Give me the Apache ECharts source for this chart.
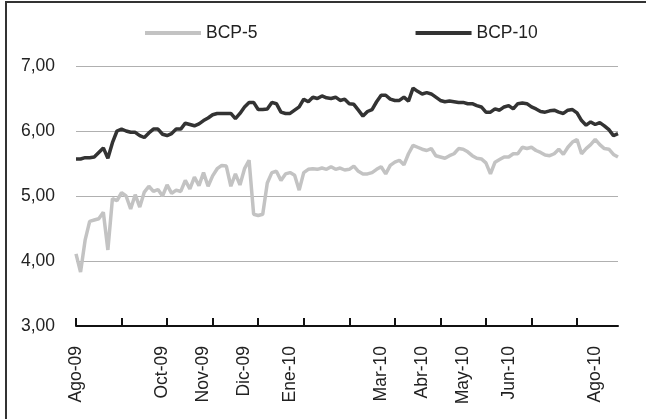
<!DOCTYPE html>
<html>
<head>
<meta charset="utf-8">
<script src="https://cdn.jsdelivr.net/npm/echarts@6/dist/echarts.min.js"></script>
<style>
  html, body { margin: 0; padding: 0; background: #fff; overflow: hidden; }
  #chart { width: 646px; height: 419px; }
  #frame {
    position: absolute; left: 5px; top: 1px; width: 639px; height: 416px;
    border-left: 2px solid #333; border-top: 2px solid #333; pointer-events: none;
  }
</style>
</head>
<body>
<div id="chart"></div>
<div id="frame"></div>
<script>
// month labels and the category index where each one sits
const monthLabels = ['Ago-09', 'Oct-09', 'Nov-09', 'Dic-09', 'Ene-10', 'Mar-10', 'Abr-10', 'May-10', 'Jun-10', 'Ago-10'];
const labelIdx = [0, 19, 28, 37, 47, 67, 76, 85, 95, 114];

const seriesNames = ['BCP-5', 'BCP-10'];

// BCP-5 yields (120 points)
const bcp5 = [
  4.11, 3.83, 4.32, 4.61, 4.63, 4.65, 4.75, 4.17, 4.96, 4.93,
  5.05, 5.00, 4.80, 5.02, 4.83, 5.06, 5.15, 5.07, 5.10, 5.00,
  5.17, 5.04, 5.09, 5.07, 5.24, 5.11, 5.29, 5.16, 5.36, 5.15,
  5.31, 5.42, 5.47, 5.46, 5.15, 5.34, 5.17, 5.42, 5.55, 4.72,
  4.70, 4.72, 5.20, 5.36, 5.38, 5.24, 5.34, 5.36, 5.32, 5.09,
  5.36, 5.41, 5.42, 5.41, 5.43, 5.41, 5.45, 5.41, 5.43, 5.40,
  5.41, 5.46, 5.38, 5.34, 5.34, 5.36, 5.41, 5.45, 5.34, 5.47,
  5.52, 5.55, 5.48, 5.65, 5.78, 5.75, 5.72, 5.70, 5.73, 5.62,
  5.60, 5.58, 5.62, 5.65, 5.73, 5.72, 5.68, 5.62, 5.58, 5.57,
  5.51, 5.34, 5.52, 5.56, 5.60, 5.60, 5.65, 5.65, 5.75, 5.73,
  5.75, 5.70, 5.67, 5.63, 5.62, 5.65, 5.72, 5.64, 5.75, 5.83,
  5.87, 5.65, 5.73, 5.79, 5.87, 5.79, 5.73, 5.72, 5.64, 5.60
];

// BCP-10 yields (120 points)
const bcp10 = [
  5.57, 5.57, 5.59, 5.59, 5.60, 5.67, 5.74, 5.58, 5.82, 6.00,
  6.03, 6.00, 5.98, 5.98, 5.93, 5.90, 5.97, 6.03, 6.03, 5.95,
  5.93, 5.96, 6.03, 6.03, 6.12, 6.10, 6.08, 6.11, 6.16, 6.20,
  6.25, 6.27, 6.27, 6.27, 6.27, 6.19, 6.27, 6.37, 6.44, 6.44,
  6.33, 6.33, 6.34, 6.44, 6.42, 6.29, 6.27, 6.27, 6.32, 6.37,
  6.49, 6.45, 6.52, 6.50, 6.54, 6.51, 6.50, 6.52, 6.47, 6.49,
  6.42, 6.41, 6.32, 6.23, 6.30, 6.33, 6.45, 6.55, 6.55, 6.49,
  6.47, 6.47, 6.52, 6.46, 6.66, 6.61, 6.57, 6.59, 6.57, 6.52,
  6.47, 6.45, 6.46, 6.45, 6.44, 6.44, 6.42, 6.42, 6.39, 6.37,
  6.29, 6.29, 6.34, 6.32, 6.37, 6.39, 6.34, 6.42, 6.43, 6.42,
  6.37, 6.34, 6.30, 6.29, 6.31, 6.32, 6.29, 6.27, 6.32, 6.33,
  6.28, 6.16, 6.09, 6.14, 6.10, 6.13, 6.08, 6.02, 5.93, 5.96
];

const FONT = "'Liberation Sans', Arial, sans-serif";
const TEXT = '#222';

// one category per point, labelled only at the month positions
const categories = bcp10.map((v, i) => {
  const k = labelIdx.indexOf(i);
  return k >= 0 ? monthLabels[k] : '';
});

const chart = echarts.init(document.getElementById('chart'), null, { renderer: 'canvas' });

const option = {
  animation: false,
  backgroundColor: '#fff',
  textStyle: { fontFamily: FONT },
  legend: {
    left: 145,
    top: 24,
    icon: 'rect',
    itemWidth: 56,
    itemHeight: 4,
    itemGap: 158,
    padding: 0,
    textStyle: { fontSize: 17.5, color: TEXT, fontFamily: FONT },
    data: seriesNames
  },
  grid: {
    left: 76,
    right: 28,
    top: 66,
    bottom: 93,
    outerBoundsMode: 'none'
  },
  xAxis: {
    type: 'category',
    boundaryGap: false,
    data: categories,
    axisLine: { lineStyle: { color: '#111', width: 2 } },
    axisTick: {
      show: true,
      inside: true,
      length: 8,
      interval: 9,
      lineStyle: { color: '#111', width: 2 }
    },
    axisLabel: {
      rotate: 90,
      margin: 20,
      interval: (i) => categories[i] !== '',
      fontSize: 17.5,
      color: TEXT,
      fontFamily: FONT
    },
    splitLine: { show: false }
  },
  yAxis: {
    type: 'value',
    min: 3,
    max: 7,
    interval: 1,
    axisLine: { show: false },
    axisTick: { show: false },
    axisLabel: {
      margin: 21,
      fontSize: 17.5,
      color: TEXT,
      fontFamily: FONT,
      formatter: (v) => v.toFixed(2).replace('.', ',')
    },
    splitLine: { lineStyle: { color: '#b0b0b0', width: 1 } }
  },
  series: [
    {
      name: seriesNames[0],
      type: 'line',
      data: bcp5,
      symbol: 'none',
      color: '#c3c3c3',
      lineStyle: { color: '#c3c3c3', width: 3.5 }
    },
    {
      name: seriesNames[1],
      type: 'line',
      data: bcp10,
      symbol: 'none',
      color: '#333333',
      lineStyle: { color: '#333333', width: 3.5 }
    }
  ]
};

chart.setOption(option);
</script>
</body>
</html>
